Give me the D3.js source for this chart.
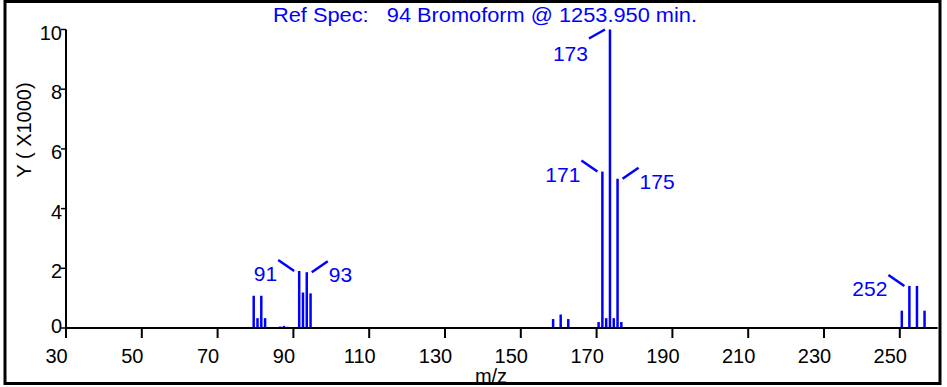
<!DOCTYPE html>
<html><head><meta charset="utf-8">
<script src="https://cdn.jsdelivr.net/npm/d3@7"></script>
<style>
body{margin:0;background:#fff}
svg{display:block}
text{font-family:"Liberation Sans",Arial,sans-serif}
</style>
</head><body>
<svg id="chart" width="947" height="387"></svg>
<script>
// ---- data ----
const masses      = [79, 80, 81, 82, 86, 87, 88, 91, 92, 93, 94, 95, 158, 160, 162, 170, 171, 172, 173, 174, 175, 176, 250, 251, 252, 253, 254, 255, 256];
const intensities = [1080, 330, 1080, 330, 50, 70, 40, 1910, 1190, 1870, 1160, 30, 300, 450, 300, 200, 5240, 330, 10000, 330, 5000, 200, 580, 30, 1410, 30, 1410, 30, 580];
const labeledMasses = [91, 93, 171, 173, 175, 252];
const labelSides    = ["left", "right", "left", "left", "right", "left"];
const xTicks = [30, 50, 70, 90, 110, 130, 150, 170, 190, 210, 230, 250];
const yTicks = [0, 2, 4, 6, 8, 10];
const titleText = "Ref Spec:   94 Bromoform @ 1253.950 min.";
const xLabel = "m/z";
const yLabel = "Y ( X1000)";

// ---- layout ----
const svg = d3.select("#chart");
const blue = "#0000ff";
const x = d3.scaleLinear().domain([30, 260]).range([66, 937.7]);
const y = d3.scaleLinear().domain([0, 10000]).range([328, 29.5]);
const barShift = 2;

// frame
svg.append("rect").attr("x", 5).attr("y", 1.5).attr("width", 935).attr("height", 382)
  .attr("fill", "none").attr("stroke", "#000").attr("stroke-width", 3);

// x axis
const xAxis = svg.append("g");
xAxis.append("line").attr("x1", x(30)).attr("x2", x(260)).attr("y1", y(0)).attr("y2", y(0))
  .attr("stroke", "#000").attr("stroke-width", 2);
xAxis.selectAll(".xt").data(xTicks).join("line")
  .attr("x1", d => x(d)).attr("x2", d => x(d)).attr("y1", y(0)).attr("y2", y(0) + 10)
  .attr("stroke", "#000").attr("stroke-width", 2);
xAxis.selectAll(".xl").data(xTicks).join("text")
  .attr("x", d => x(d) - 9.5).attr("y", 363).attr("text-anchor", "middle")
  .attr("font-size", 20).attr("fill", "#000").text(d => d);

// y axis
const yAxis = svg.append("g");
yAxis.append("line").attr("x1", x(30)).attr("x2", x(30)).attr("y1", y(10000)).attr("y2", y(0))
  .attr("stroke", "#000").attr("stroke-width", 2);
yAxis.selectAll(".yt").data(yTicks).join("line")
  .attr("x1", x(30) - 5).attr("x2", x(30)).attr("y1", d => y(d * 1000)).attr("y2", d => y(d * 1000))
  .attr("stroke", "#000").attr("stroke-width", 1.5);
yAxis.selectAll(".yl").data(yTicks).join("text")
  .attr("x", 62).attr("y", d => y(d * 1000) + (d === 0 ? 5 : 10)).attr("text-anchor", "end")
  .attr("font-size", 20).attr("fill", "#000").text(d => d);

// axis titles
svg.append("text").attr("x", 491).attr("y", 383).attr("text-anchor", "middle")
  .attr("font-size", 20).attr("fill", "#000").text(xLabel);
svg.append("text").attr("transform", "translate(31,130) rotate(-90)").attr("text-anchor", "middle")
  .attr("font-size", 20).attr("fill", "#000").text(yLabel);

// bars
svg.append("g").selectAll("line").data(masses).join("line")
  .attr("x1", (d) => x(d) + barShift).attr("x2", (d) => x(d) + barShift)
  .attr("y1", y(0) - 1).attr("y2", (d, i) => y(intensities[i]))
  .attr("stroke", blue).attr("stroke-width", 2.5);

// peak labels with leaders
const lg = svg.append("g");
labeledMasses.forEach((m, k) => {
  const v = intensities[masses.indexOf(m)];
  const xb = x(m) + barShift, yt = y(v);
  const s = labelSides[k] === "left" ? -1 : 1;
  const atTop = yt - 11 < 25;
  const dy = atTop ? 9 : -11;
  lg.append("line").attr("x1", xb + s * 5).attr("y1", yt).attr("x2", xb + s * 21).attr("y2", yt + dy)
    .attr("stroke", blue).attr("stroke-width", 2.5);
  lg.append("text").attr("x", xb + s * 22).attr("y", atTop ? yt + 31 : yt + 10)
    .attr("text-anchor", s < 0 ? "end" : "start").attr("font-size", 21).attr("fill", blue).text(m);
});

// title
svg.append("text").attr("x", 485).attr("y", 22).attr("text-anchor", "middle")
  .attr("font-size", 19.5).attr("fill", blue).attr("xml:space", "preserve")
  .attr("textLength", 424).attr("lengthAdjust", "spacingAndGlyphs")
  .style("white-space", "pre").text(titleText);
</script>
</body></html>
